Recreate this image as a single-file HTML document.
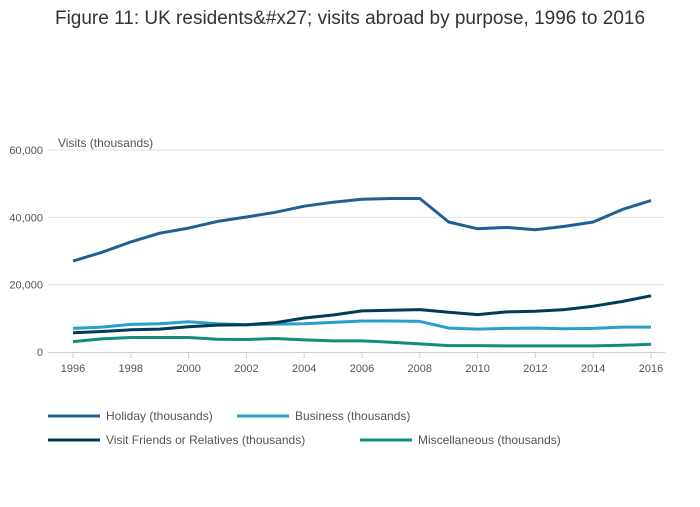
<!DOCTYPE html>
<html><head><meta charset="utf-8"><style>
body{margin:0;background:#fff;font-family:"Liberation Sans",sans-serif;}
svg text{font-family:"Liberation Sans",sans-serif;}
</style></head><body>
<svg id="chart" width="700" height="502" xmlns="http://www.w3.org/2000/svg">
<text x="350" y="24" text-anchor="middle" font-size="19" fill="#333">Figure 11: UK residents&amp;#x27; visits abroad by purpose, 1996 to 2016</text>
<text x="58" y="147" font-size="12" fill="#555">Visits (thousands)</text>
<g id="grid"></g><g id="lines"></g><g id="legend"></g>
</svg>
<script>
const years=[1996,1997,1998,1999,2000,2001,2002,2003,2004,2005,2006,2007,2008,2009,2010,2011,2012,2013,2014,2015,2016];
const holiday=[27000,29600,32700,35300,36800,38800,40100,41500,43300,44500,45400,45600,45600,38600,36600,37000,36300,37300,38600,42300,45000];
const business=[7000,7400,8200,8400,9000,8400,8100,8300,8400,8800,9200,9200,9100,7100,6800,7000,7100,6900,7000,7400,7400];
const vfr=[5700,6100,6600,6800,7500,8000,8100,8700,10100,11000,12200,12400,12600,11800,11100,11900,12100,12600,13600,15000,16700];
const misc=[3100,3900,4300,4300,4300,3800,3700,4000,3600,3300,3300,2900,2400,1900,1900,1800,1800,1800,1800,2000,2300];
const yTicks=[0,20000,40000,60000];
const xTicks=[1996,1998,2000,2002,2004,2006,2008,2010,2012,2014,2016];
const seriesNames=["Holiday (thousands)","Business (thousands)","Visit Friends or Relatives (thousands)","Miscellaneous (thousands)"];
const NS="http://www.w3.org/2000/svg";
const x=v=>73+(v-1996)*(651-73)/20;
const y=v=>352-v*(352-150)/60000;
function mk(tag,attrs,parent){const e=document.createElementNS(NS,tag);for(const k in attrs)e.setAttribute(k,attrs[k]);parent.appendChild(e);return e;}
const grid=document.getElementById('grid');
yTicks.forEach(t=>{
  if(t>0){const l=mk('line',{x1:48,x2:665,y1:y(t),y2:y(t),stroke:'#e2e2e2','stroke-width':1},grid);
  
  }
  const tx=mk('text',{x:43,y:y(t)+4,'text-anchor':'end','font-size':11,fill:'#555'},grid);tx.textContent=t.toLocaleString('en-GB');
  
  
});
const ax=mk('line',{x1:48,x2:665,y1:352.5,y2:352.5,stroke:'#c6cfe0','stroke-width':1},grid);


xTicks.forEach(t=>{
  const tk=mk('line',{x1:x(t),x2:x(t),y1:352,y2:358,stroke:'#c6cfe0'},grid);
  
  
  const tx=mk('text',{x:x(t),y:372,'text-anchor':'middle','font-size':11,fill:'#555'},grid);tx.textContent=t;
  
  
});
const data=[holiday,business,vfr,misc];
const colors=['#206095','#27a0cc','#003c57','#118c7b'];
const keys=['holiday','business','vfr','misc'];
const lines=document.getElementById('lines');
[3,1,2,0].forEach(i=>{
  const p=mk('path',{d:data[i].map((v,j)=>(j?'L':'M')+x(years[j]).toFixed(1)+','+y(v).toFixed(1)).join(''),fill:'none',stroke:colors[i],'stroke-width':3,'stroke-linejoin':'round'},lines);
  
  
});
const lg=document.getElementById('legend');
const pos=[[48,416],[237,416],[48,440],[360,440]];
seriesNames.forEach((n,i)=>{
  const g=mk('g',{},lg);
  
  
  mk('line',{x1:pos[i][0],x2:pos[i][0]+52,y1:pos[i][1],y2:pos[i][1],stroke:colors[i],'stroke-width':3},g);
  const t=mk('text',{x:pos[i][0]+58,y:pos[i][1]+4,'font-size':12,fill:'#555'},g);t.textContent=n;
});
</script>
</body></html>
